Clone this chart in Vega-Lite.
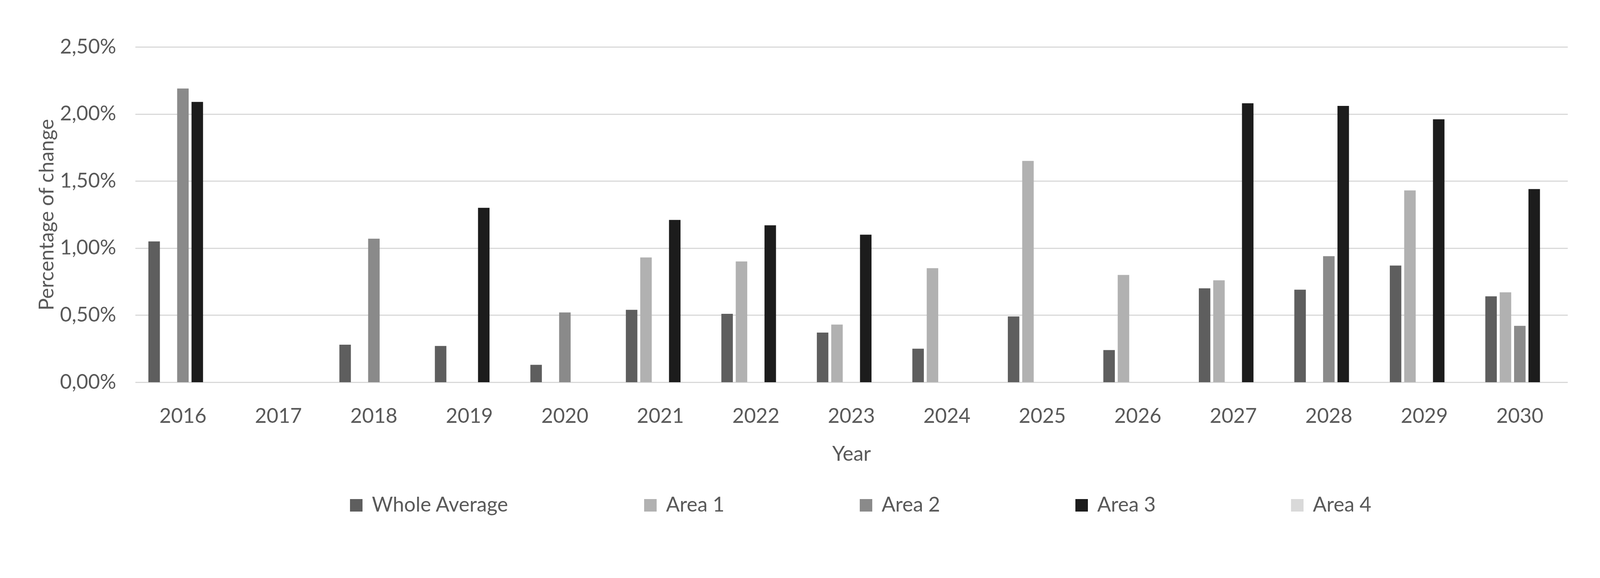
{
  "$schema": "https://vega.github.io/schema/vega-lite/v6.json",
  "autosize": {"type": "none"},
  "width": 3667,
  "height": 858,
  "padding": {"left": 346, "top": 120, "right": 86, "bottom": 501},
  "background": "white",
  "config": {
    "locale": {"number": {"decimal": ",", "thousands": ".", "grouping": [3], "currency": ["", " €"]}},
    "font": "Lato",
    "view": {"stroke": null},
    "axis": {"labelFont": "Lato", "titleFont": "Lato", "labelColor": "#595959", "titleColor": "#595959", "titleFontWeight": "normal"},
    "legend": {"labelFont": "Lato", "labelColor": "#595959"}
  },
  "data": {
    "values": [
      {"year": "2016", "series": "Whole Average", "value": 0.0105},
      {"year": "2016", "series": "Area 2", "value": 0.0219},
      {"year": "2016", "series": "Area 3", "value": 0.0209},
      {"year": "2018", "series": "Whole Average", "value": 0.0028},
      {"year": "2018", "series": "Area 2", "value": 0.0107},
      {"year": "2019", "series": "Whole Average", "value": 0.0027},
      {"year": "2019", "series": "Area 3", "value": 0.0130},
      {"year": "2020", "series": "Whole Average", "value": 0.0013},
      {"year": "2020", "series": "Area 2", "value": 0.0052},
      {"year": "2021", "series": "Whole Average", "value": 0.0054},
      {"year": "2021", "series": "Area 1", "value": 0.0093},
      {"year": "2021", "series": "Area 3", "value": 0.0121},
      {"year": "2022", "series": "Whole Average", "value": 0.0051},
      {"year": "2022", "series": "Area 1", "value": 0.0090},
      {"year": "2022", "series": "Area 3", "value": 0.0117},
      {"year": "2023", "series": "Whole Average", "value": 0.0037},
      {"year": "2023", "series": "Area 1", "value": 0.0043},
      {"year": "2023", "series": "Area 3", "value": 0.0110},
      {"year": "2024", "series": "Whole Average", "value": 0.0025},
      {"year": "2024", "series": "Area 1", "value": 0.0085},
      {"year": "2025", "series": "Whole Average", "value": 0.0049},
      {"year": "2025", "series": "Area 1", "value": 0.0165},
      {"year": "2026", "series": "Whole Average", "value": 0.0024},
      {"year": "2026", "series": "Area 1", "value": 0.0080},
      {"year": "2027", "series": "Whole Average", "value": 0.0070},
      {"year": "2027", "series": "Area 1", "value": 0.0076},
      {"year": "2027", "series": "Area 3", "value": 0.0208},
      {"year": "2028", "series": "Whole Average", "value": 0.0069},
      {"year": "2028", "series": "Area 2", "value": 0.0094},
      {"year": "2028", "series": "Area 3", "value": 0.0206},
      {"year": "2029", "series": "Whole Average", "value": 0.0087},
      {"year": "2029", "series": "Area 1", "value": 0.0143},
      {"year": "2029", "series": "Area 3", "value": 0.0196},
      {"year": "2030", "series": "Whole Average", "value": 0.0064},
      {"year": "2030", "series": "Area 1", "value": 0.0067},
      {"year": "2030", "series": "Area 2", "value": 0.0042},
      {"year": "2030", "series": "Area 3", "value": 0.0144}
    ]
  },
  "mark": {"type": "bar"},
  "encoding": {
    "x": {
      "field": "year",
      "type": "nominal",
      "title": "Year",
      "scale": {
        "domain": ["2016","2017","2018","2019","2020","2021","2022","2023","2024","2025","2026","2027","2028","2029","2030"],
        "paddingInner": 0.277,
        "paddingOuter": 0.1385
      },
      "axis": {
        "labelAngle": 0,
        "labelFontSize": 52,
        "titleFontSize": 52,
        "labelPadding": 62,
        "titlePadding": 46,
        "ticks": false,
        "domain": false,
        "grid": false
      }
    },
    "xOffset": {
      "field": "series",
      "type": "nominal",
      "scale": {
        "domain": ["Whole Average", "Area 1", "Area 2", "Area 3", "Area 4"],
        "paddingInner": 0.2,
        "paddingOuter": 0
      }
    },
    "y": {
      "field": "value",
      "type": "quantitative",
      "title": "Percentage of change",
      "scale": {"domain": [0, 0.025], "nice": false},
      "axis": {
        "values": [0, 0.005, 0.01, 0.015, 0.02, 0.025],
        "format": ".2%",
        "labelFontSize": 52,
        "titleFontSize": 52,
        "labelPadding": 49,
        "titlePadding": 6,
        "ticks": false,
        "domain": false,
        "grid": true,
        "gridColor": "#d9d9d9",
        "gridWidth": 3
      }
    },
    "color": {
      "field": "series",
      "type": "nominal",
      "title": null,
      "scale": {
        "domain": ["Whole Average", "Area 1", "Area 2", "Area 3", "Area 4"],
        "range": ["#5e5e5e", "#b1b1b1", "#8a8a8a", "#1c1c1c", "#d9d9d9"]
      },
      "legend": {
        "orient": "none",
        "legendX": 540,
        "legendY": 1147,
        "direction": "horizontal",
        "symbolType": "square",
        "symbolSize": 1024,
        "symbolStrokeWidth": 0,
        "labelFontSize": 52,
        "labelOffset": 14,
        "columnPadding": 336,
        "labelLimit": 1000
      }
    }
  }
}
